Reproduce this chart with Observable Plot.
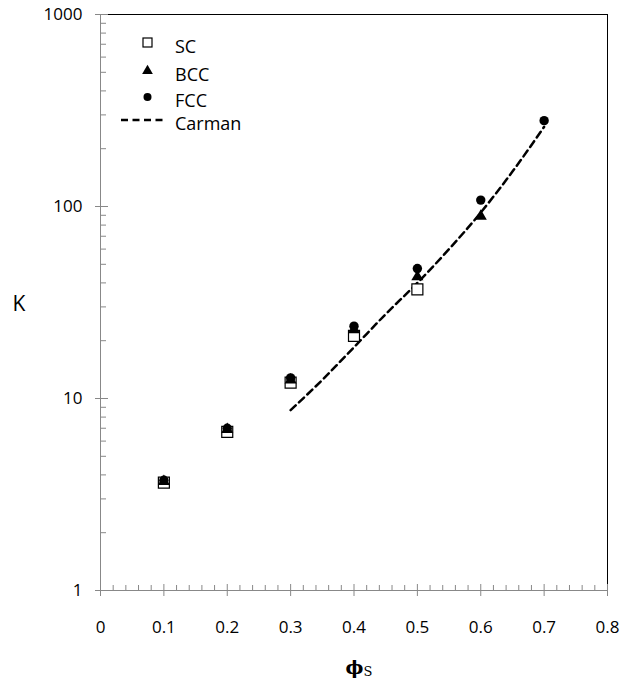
<!DOCTYPE html>
<html>
<head>
<meta charset="utf-8">
<script src="https://cdn.jsdelivr.net/npm/d3@7"></script>
<script src="https://cdn.jsdelivr.net/npm/@observablehq/plot@0.6"></script>
<style>
  html, body { margin: 0; padding: 0; background: #fff; }
  #chart { width: 633px; height: 680px; }
  .xlab { font-family: "DejaVu Serif", "Liberation Serif", serif; }
</style>
</head>
<body>
<div id="chart"></div>
<script>
// ---- data ----
const phiSC  = [0.1, 0.2, 0.3, 0.4, 0.5];
const kSC    = [3.65, 6.7, 12.1, 21.2, 37];
const phiBCC = [0.1, 0.2, 0.3, 0.4, 0.5, 0.6];
const kBCC   = [3.7, 6.9, 12.5, 22.8, 43, 89];
const phiFCC = [0.1, 0.2, 0.3, 0.4, 0.5, 0.6, 0.7];
const kFCC   = [3.75, 7.0, 12.8, 23.8, 47.5, 108, 280];
const phiCarman = [0.3, 0.35, 0.4, 0.45, 0.5, 0.55, 0.6, 0.65, 0.7];
const kCarman   = [8.7, 12.5, 18.5, 27.5, 40, 60, 93, 152, 260];

const xMajor = [0, 0.1, 0.2, 0.3, 0.4, 0.5, 0.6, 0.7, 0.8];
const xTickLabels = ["0", "0.1", "0.2", "0.3", "0.4", "0.5", "0.6", "0.7", "0.8"];
const xMinor = d3.range(0, 81, 2).filter(v => v % 10 !== 0).map(v => v / 100);
const yMajor = [1, 10, 100, 1000];
const yTickLabels = ["1", "10", "100", "1000"];
const yMinor = [2,3,4,5,6,7,8,9,20,30,40,50,60,70,80,90,200,300,400,500,600,700,800,900];
const seriesNames = ["SC", "BCC", "FCC", "Carman"];

const sc  = phiSC.map((p, i) => ({phi: p, k: kSC[i]}));
const bcc = phiBCC.map((p, i) => ({phi: p, k: kBCC[i]}));
const fcc = phiFCC.map((p, i) => ({phi: p, k: kFCC[i]}));
const carman = phiCarman.map((p, i) => ({phi: p, k: kCarman[i]}));

const axisGray = "#888";
const font = "'Open Sans', 'Noto Sans', sans-serif";

const plot = Plot.plot({
  width: 633,
  height: 680,
  marginLeft: 100,
  marginRight: 26,
  marginTop: 14,
  marginBottom: 90,
  style: {fontFamily: font, fontSize: "17px", color: "#000", background: "#fff", overflow: "visible"},
  x: {domain: [0, 0.8], label: null},
  y: {type: "log", domain: [1, 1000], label: null},
  marks: [
    // frame
    Plot.ruleY([1000], {stroke: "#000"}),
    Plot.ruleX([0.8], {stroke: "#000"}),
    Plot.ruleX([0], {stroke: axisGray}),
    Plot.ruleY([1], {stroke: axisGray}),
    // x axis ticks
    Plot.axisX({ticks: xMajor, tickSize: 6, tickPadding: 24,
      tickFormat: d => xTickLabels[xMajor.indexOf(d)], stroke: axisGray, fill: "#000", fontSize: 17}),
    Plot.axisX({ticks: xMajor, tickSize: -6, text: null, stroke: axisGray}),
    Plot.axisX({ticks: xMinor, tickSize: -5, text: null, stroke: axisGray}),
    // y axis ticks
    Plot.axisY({ticks: yMajor, tickSize: 5, tickPadding: 13,
      tickFormat: d => yTickLabels[yMajor.indexOf(d)], stroke: axisGray, fill: "#000", fontSize: 17}),
    Plot.axisY({ticks: yMajor, tickSize: -8, text: null, stroke: axisGray}),
    Plot.axisY({ticks: yMinor, tickSize: -6, text: null, stroke: axisGray}),
    // Carman correlation
    Plot.line(carman, {x: "phi", y: "k", stroke: "#000", strokeWidth: 2.5, strokeDasharray: "7,4.5", curve: "monotone-x"}),
    // data
    Plot.dot(sc,  {x: "phi", y: "k", symbol: "square", r: 6.2, stroke: "#000", fill: "#fff", strokeWidth: 1.2}),
    Plot.dot(bcc, {x: "phi", y: "k", symbol: "triangle", r: 4.5, fill: "#000", stroke: "none"}),
    Plot.dot(fcc, {x: "phi", y: "k", symbol: "circle", r: 4.7, fill: "#000", stroke: "none"})
  ]
});

document.getElementById("chart").appendChild(plot);

// ---- legend and axis titles (inside the svg) ----
const svg = d3.select(plot);
const lg = svg.append("g")
  .style("font-family", font).style("font-size", "18px").style("text-anchor", "start").attr("fill", "#000");
const lx = 147.5, tx = 175;
const rows = [42.5, 71, 97, 120];
lg.append("rect").attr("x", lx - 4.5).attr("y", rows[0] - 4.5).attr("width", 9).attr("height", 9)
  .attr("fill", "#fff").attr("stroke", "#000").attr("stroke-width", 1.2);
lg.append("path").attr("transform", `translate(${lx},${rows[1]})`)
  .attr("d", d3.symbol(d3.symbolTriangle, 50)()).attr("fill", "#000");
lg.append("circle").attr("cx", lx).attr("cy", rows[2]).attr("r", 4).attr("fill", "#000");
lg.append("line").attr("x1", 121).attr("x2", 166).attr("y1", rows[3]).attr("y2", rows[3])
  .attr("stroke", "#000").attr("stroke-width", 2.5).attr("stroke-dasharray", "7,4.5");
seriesNames.forEach((name, i) => {
  lg.append("text").attr("x", tx).attr("y", rows[i] + 4).attr("dy", "0.35em")
    .style("text-anchor", "start").text(name);
});

svg.append("text").attr("x", 19).attr("y", 304).attr("dy", "0.35em")
  .style("text-anchor", "middle").style("font-family", font).style("font-size", "21px").attr("fill", "#000")
  .text("K");

const xl = svg.append("text").attr("class", "xlab").attr("x", 359).attr("y", 674)
  .style("text-anchor", "middle").style("font-weight", "bold")
  .style("font-size", "19px").attr("fill", "#000");
xl.append("tspan").attr("class", "xlab").text("\u03D5");
xl.append("tspan").attr("class", "xlab").style("font-size", "13px").style("font-weight", "normal").attr("dy", 2).text("S");
</script>
</body>
</html>
